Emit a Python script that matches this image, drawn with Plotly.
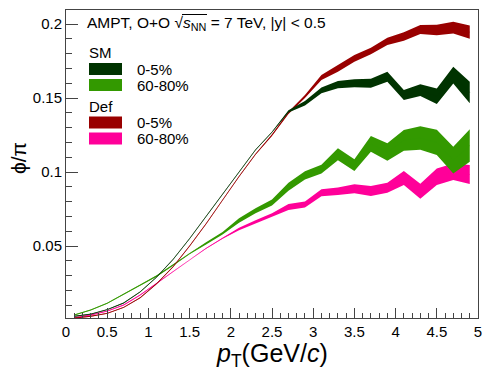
import plotly.graph_objects as go

# pT bin centres (GeV/c)
pt = [0.1, 0.3, 0.5, 0.7, 0.9, 1.1, 1.3, 1.5, 1.7, 1.9, 2.1, 2.3, 2.5,
      2.7, 2.9, 3.1, 3.3, 3.5, 3.7, 3.9, 4.1, 4.3, 4.5, 4.7, 4.9]

# SM, 0-5%
sm_0_5 = [0.0025, 0.004, 0.007, 0.0115, 0.019, 0.029, 0.041, 0.055, 0.070, 0.085,
          0.100, 0.115, 0.127, 0.141, 0.1465, 0.1552, 0.1591, 0.160, 0.160, 0.1644,
          0.152, 0.1554, 0.1512, 0.1655, 0.1537]
sm_0_5_err = [0.0003] * 13 + [0.0007, 0.0015, 0.002, 0.0025, 0.0027, 0.003, 0.0034,
                              0.0034, 0.004, 0.0053, 0.0056, 0.0073]

# SM, 60-80%
sm_60_80 = [0.0034, 0.0068, 0.0113, 0.0176, 0.0236, 0.0297, 0.0372, 0.045, 0.0518, 0.0586,
            0.0672, 0.0738, 0.0794, 0.090, 0.0978, 0.102, 0.112, 0.1047, 0.119, 0.1135,
            0.1214, 0.123, 0.120, 0.108, 0.1179]
sm_60_80_err = [0.0003, 0.0003, 0.0003, 0.0004, 0.0004, 0.0005, 0.0005, 0.0006, 0.0008, 0.0009,
                0.0015, 0.0017, 0.002, 0.0027, 0.0028, 0.003, 0.004, 0.004, 0.0053, 0.0059,
                0.007, 0.008, 0.0085, 0.009, 0.011]

# Deformed, 0-5%
def_0_5 = [0.0013, 0.0025, 0.0045, 0.0085, 0.015, 0.0245, 0.036, 0.050, 0.065, 0.081,
           0.097, 0.112, 0.125, 0.140, 0.151, 0.1639, 0.170, 0.1768, 0.1818, 0.1883,
           0.1916, 0.1963, 0.196, 0.1976, 0.1945]
def_0_5_err = [0.0003] * 12 + [0.0006, 0.0008, 0.001, 0.0017, 0.0023, 0.0023, 0.0022, 0.0025,
                               0.0028, 0.003, 0.0036, 0.004, 0.0045]

# Deformed, 60-80%
def_60_80 = [0.0015, 0.0034, 0.006, 0.0101, 0.0169, 0.0248, 0.0327, 0.041, 0.0484, 0.0552,
             0.0615, 0.0664, 0.071, 0.0764, 0.078, 0.086, 0.087, 0.0887, 0.0872, 0.0894,
             0.096, 0.087, 0.0968, 0.1002, 0.0983]
def_60_80_err = [0.0003] * 10 + [0.0008, 0.001, 0.0012, 0.002, 0.002, 0.0023, 0.0026, 0.003,
                                 0.0034, 0.0034, 0.0047, 0.005, 0.0056, 0.0056, 0.0064]

C_SM_0_5 = "#003300"
C_SM_60_80 = "#339900"
C_DEF_0_5 = "#990000"
C_DEF_60_80 = "#ff0099"

FONT = "Liberation Sans, Arial, Helvetica, sans-serif"

fig = go.Figure()


def add_band(y, err, color):
    up = [v + e for v, e in zip(y, err)]
    lo = [v - e for v, e in zip(y, err)]
    fig.add_trace(go.Scatter(x=pt + pt[::-1], y=up + lo[::-1], fill="toself",
                             fillcolor=color, line=dict(width=0), mode="lines",
                             hoverinfo="skip", showlegend=False))
    fig.add_trace(go.Scatter(x=pt, y=y, mode="lines", line=dict(color=color, width=0.6),
                             showlegend=False))


add_band(def_60_80, def_60_80_err, C_DEF_60_80)
add_band(sm_60_80, sm_60_80_err, C_SM_60_80)
add_band(def_0_5, def_0_5_err, C_DEF_0_5)
add_band(sm_0_5, sm_0_5_err, C_SM_0_5)

# plot area in pixels
L, R, T, B = 66, 478, 10, 318


def px(x):
    return (x - L) / (R - L)


def py(y):
    return (B - y) / (B - T)


# hand-made ROOT style legend
legend_rows = [
    ("header", "SM", 52, None),
    ("box", "0-5%", 69, C_SM_0_5),
    ("box", "60-80%", 85, C_SM_60_80),
    ("header", "Def", 106, None),
    ("box", "0-5%", 122.5, C_DEF_0_5),
    ("box", "60-80%", 138.5, C_DEF_60_80),
]
for kind, label, yc, color in legend_rows:
    if kind == "header":
        fig.add_annotation(x=px(87), y=py(yc), xref="paper", yref="paper", text=label,
                           showarrow=False, xanchor="left", yanchor="middle",
                           font=dict(size=15, color="black", family=FONT))
    else:
        fig.add_shape(type="rect", xref="paper", yref="paper",
                      x0=px(89), x1=px(122), y0=py(yc - 6), y1=py(yc + 6),
                      fillcolor=color, line=dict(width=0))
        fig.add_annotation(x=px(135), y=py(yc), xref="paper", yref="paper", text=label,
                           showarrow=False, xanchor="left", yanchor="middle",
                           font=dict(size=15, color="black", family=FONT))

fig.add_annotation(x=px(85), y=py(24), xref="paper", yref="paper",
                   text="AMPT, O+O \u221a<i>s</i><sub>NN</sub> = 7 TeV, |y| < 0.5",
                   showarrow=False, xanchor="left", yanchor="middle",
                   font=dict(size=15.5, color="black", family=FONT))
# bar of the square root sign
fig.add_shape(type="line", xref="paper", yref="paper",
              x0=px(182), x1=px(207), y0=py(14.5), y1=py(14.5),
              line=dict(color="black", width=1))

# axis titles
fig.add_annotation(x=px(272), y=py(355), xref="paper", yref="paper",
                   text="<i>p</i><sub>T</sub>(GeV/<i>c</i>)", showarrow=False,
                   xanchor="center", yanchor="middle",
                   font=dict(size=25, color="black", family=FONT))
fig.add_annotation(x=px(18), y=py(158), xref="paper", yref="paper",
                   text="\u03d5/\u03c0", showarrow=False, textangle=-90,
                   xanchor="center", yanchor="middle",
                   font=dict(size=21, color="black", family=FONT))

axis_common = dict(showline=True, linecolor="#444444", linewidth=1, mirror=True,
                   showgrid=False, zeroline=False, ticks="inside", automargin=False,
                   tickcolor="#444444", tickfont=dict(size=15, color="black", family=FONT))

fig.update_xaxes(range=[0, 5], dtick=0.5, tick0=0, ticklen=10,
                 minor=dict(dtick=0.1, ticks="inside", ticklen=5, tickcolor="#444444"),
                 **axis_common)
fig.update_yaxes(range=[0.00135, 0.2095], tickvals=[0.05, 0.1, 0.15, 0.2], ticklen=12,
                 minor=dict(dtick=0.01, tick0=0, ticks="inside", ticklen=6, tickcolor="#444444"),
                 **axis_common)

fig.update_layout(width=488, height=384, autosize=False,
                  margin=dict(l=L, r=488 - R, t=T, b=384 - B),
                  plot_bgcolor="white", paper_bgcolor="white", showlegend=False,
                  font=dict(family=FONT))

fig.write_html("out.html", config={"displayModeBar": False, "responsive": False},
               post_script="document.body.style.margin = '0'; document.body.style.overflow = 'hidden';")
